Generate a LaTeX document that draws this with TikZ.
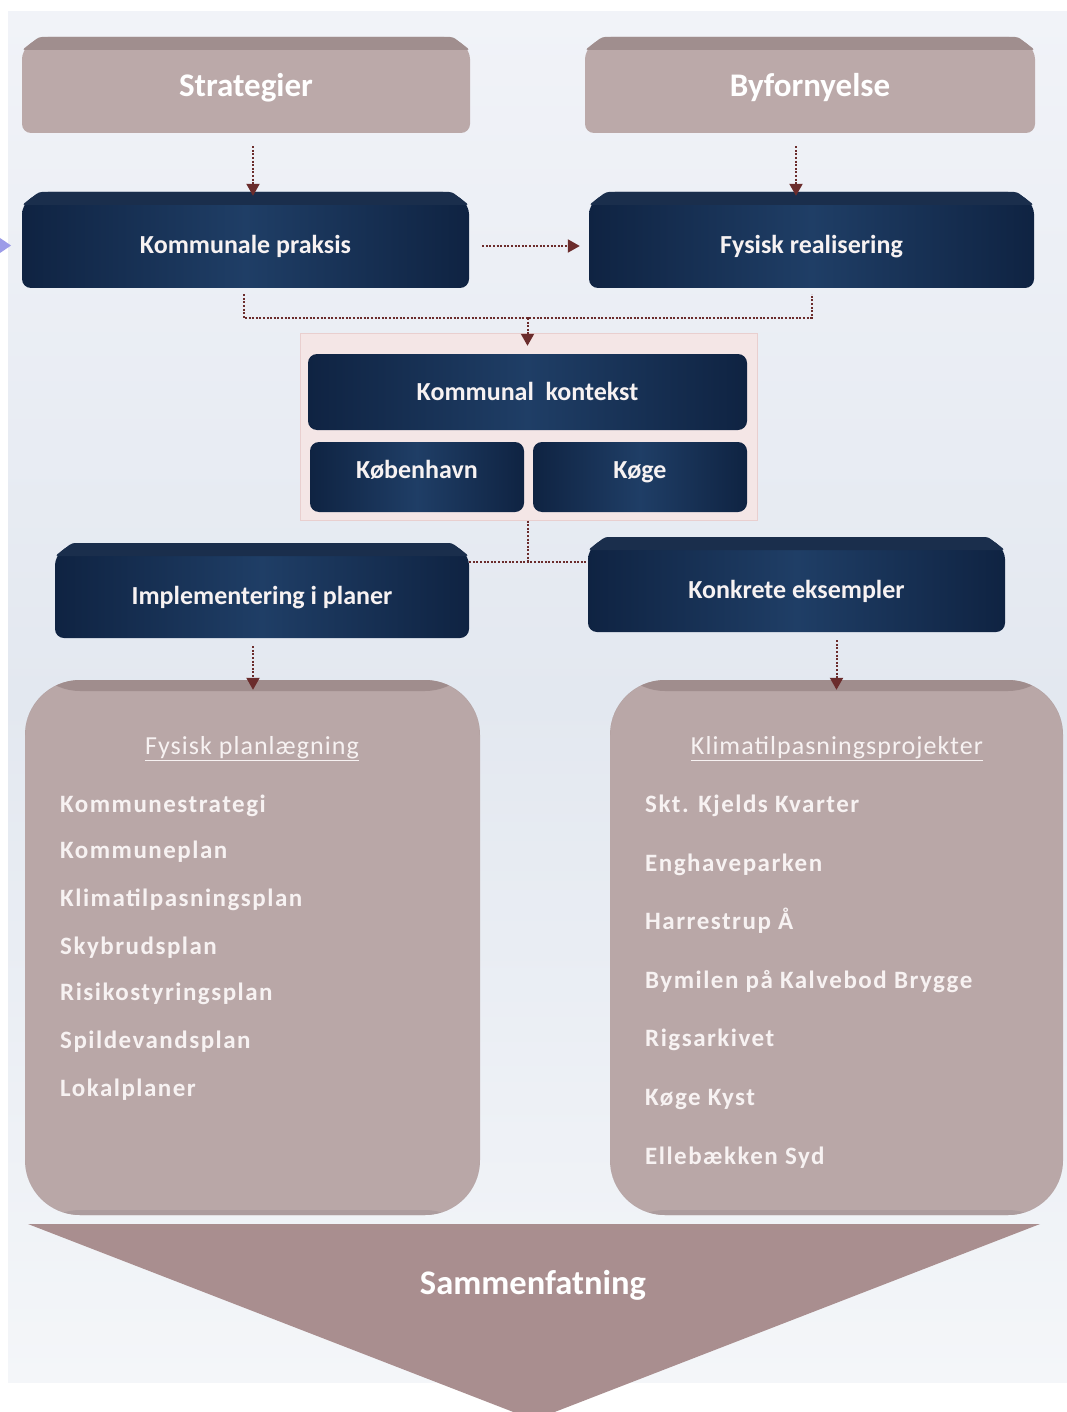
\documentclass[tikz,border=0pt]{standalone}
\usepackage{fontspec}
\setmainfont{Carlito}
\newfontfamily\spacedfont[LetterSpace=6]{Carlito}
\newfontfamily\headfont[LetterSpace=4]{Carlito}
\usetikzlibrary{arrows.meta}

\definecolor{pagebgtop}{HTML}{F1F3F8}
\definecolor{pagebgmid}{HTML}{E3E8F0}
\definecolor{pagebgbot}{HTML}{F4F6F9}
\definecolor{taupe}{HTML}{BBA9A9}
\definecolor{taupeband}{HTML}{A08E8E}
\definecolor{navy}{HTML}{0F2342}
\definecolor{navymid}{HTML}{1F3E66}
\definecolor{navyband}{HTML}{1A2E4C}
\definecolor{linkred}{HTML}{6B2C2C}
\definecolor{listfill}{HTML}{B9A7A7}
\definecolor{listband}{HTML}{A08D8D}
\definecolor{listfoot}{HTML}{AC9C9E}
\definecolor{chevfill}{HTML}{A98E8F}
\definecolor{grpfill}{HTML}{F4E6E6}
\definecolor{grpedge}{HTML}{E9CFCF}
\definecolor{lighttext}{HTML}{F7F2F2}
\definecolor{tipblue}{HTML}{9C9CE8}

\tikzset{
  tbody/.style={fill=taupe},
  tband/.style={fill=taupeband},
  tlabel/.style={text=white, font=\bfseries\fontsize{33}{38}\selectfont},
  nbody/.style={left color=navy, right color=navy, middle color=navymid},
  nband/.style={fill=navyband},
  nlabel/.style={text=lighttext, font=\bfseries\fontsize{26}{30}\selectfont,
    text height=19pt, text depth=4pt},
  link/.style={draw=linkred, line width=2pt, dash pattern=on 2pt off 1.6pt},
  arr/.style={link, -{Triangle[width=13pt,length=12pt]}},
  listbox/.style={fill=listfill, rounded corners=55, inner sep=0pt,
    path picture={
      \fill[listband] (path picture bounding box.north west)
        rectangle ([yshift=-11pt]path picture bounding box.north east);
      \fill[listfoot] (path picture bounding box.south west)
        rectangle ([yshift=5pt]path picture bounding box.south east);}},
  listhead/.style={text=lighttext, font=\headfont\fontsize{26}{30}\selectfont, anchor=base},
  listitem/.style={text=lighttext, font=\spacedfont\bfseries\fontsize{25}{30}\selectfont,
    anchor=base west, inner sep=0pt},
  grpframe/.style={fill=grpfill, draw=grpedge, line width=1pt, inner sep=0pt},
}

% bevelled box: name, x1, y1, x2, y2, style prefix (t/n), label, label drop
\newcommand\bevelbox[8]{%
  \path[#6body, rounded corners=9] (#2+17,#3) -- (#4-17,#3) -- (#4,#3+13)
     -- (#4,#5) -- (#2,#5) -- (#2,#3+13) -- cycle;
  \path[#6band, rounded corners=3] (#2+17,#3) -- (#4-17,#3) -- (#4,#3+13)
     -- (#2,#3+13) -- cycle;
  \node[#6label, minimum width={#4-#2}, minimum height={#5-#3}, inner sep=0pt]
     (#1) at ({(#2+#4)/2},{(#3+#5)/2+#8}) {#7};
}

\begin{document}
\begin{tikzpicture}[x=1pt, y=-1pt]
  \useasboundingbox (0,0) rectangle (1067,1412);
  \fill[white] (0,0) rectangle (1067,1412);
  \shade[top color=pagebgtop, bottom color=pagebgmid] (8,12) rectangle (1067,700);
  \shade[top color=pagebgmid, bottom color=pagebgbot] (8,700) rectangle (1067,1382);

  % incoming tip at the left edge
  \fill[tipblue] (0,238) -- (11,245.5) -- (0,253) -- cycle;

  % top row
  \bevelbox{st}{22}{37}{470}{133}{t}{Strategier}{3}
  \bevelbox{by}{585}{37}{1035}{133}{t}{Byfornyelse}{3}

  % second row
  \bevelbox{kp}{22}{192}{469}{288}{n}{Kommunale praksis}{6}
  \bevelbox{fr}{589}{192}{1034}{288}{n}{Fysisk realisering}{6}

  % municipal context group
  \node[grpframe, minimum width=457, minimum height=187] (grp) at (528.5,426.5) {};
  \path[nbody, rounded corners=9] (308,354) rectangle (747,430);
  \node[nlabel, minimum width=439, minimum height=76, inner sep=0pt] (kk) at (527.5,393) {Kommunal\ \ kontekst};
  \path[nbody, rounded corners=9] (310,442) rectangle (524,512);
  \node[nlabel, minimum width=214, minimum height=70, inner sep=0pt] (kb) at (417,471) {København};
  \path[nbody, rounded corners=9] (533,442) rectangle (747,512);
  \node[nlabel, minimum width=214, minimum height=70, inner sep=0pt] (kg) at (640,471) {Køge};

  % third row
  \bevelbox{im}{55}{543}{469}{638}{n}{Implementering i planer}{6}
  \bevelbox{ke}{588}{537}{1005}{632}{n}{Konkrete eksempler}{6}

  % list panels
  \node[listbox, minimum width=455, minimum height=535] (ll) at (252.5,947.5) {};
  \node[listbox, minimum width=453, minimum height=535] (rl) at (836.5,947.5) {};

  \node[listhead] (lh) at (252,754) {\underline{Fysisk planlægning}};
  \node[listitem] (l1) at (60,812) {Kommunestrategi};
  \node[listitem] (l2) at (60,858) {Kommuneplan};
  \node[listitem] (l3) at (60,906) {Klimatilpasningsplan};
  \node[listitem] (l4) at (60,954) {Skybrudsplan};
  \node[listitem] (l5) at (60,1000) {Risikostyringsplan};
  \node[listitem] (l6) at (60,1048) {Spildevandsplan};
  \node[listitem] (l7) at (60,1096) {Lokalplaner};

  \node[listhead] (rh) at (837,754) {\underline{Klimatilpasningsprojekter}};
  \node[listitem] (r1) at (645,812) {Skt. Kjelds Kvarter};
  \node[listitem] (r2) at (645,871) {Enghaveparken};
  \node[listitem] (r3) at (645,929) {Harrestrup Å};
  \node[listitem] (r4) at (645,988) {Bymilen på Kalvebod Brygge};
  \node[listitem] (r5) at (645,1046) {Rigsarkivet};
  \node[listitem] (r6) at (645,1105) {Køge Kyst};
  \node[listitem] (r7) at (645,1164) {Ellebækken Syd};

  % summary chevron
  \fill[chevfill] (28,1224) -- (1040,1224) -- (534,1420) -- cycle;
  \node[tlabel, font=\bfseries\fontsize{34.5}{40}\selectfont] (sm) at (533,1285) {Sammenfatning};

  % connectors
  \draw[arr, shorten <=10pt, shorten >=2pt] ([xshift=7pt]st.south) -- ([xshift=7pt]st.south |- kp.north);
  \draw[arr, shorten <=10pt, shorten >=2pt] ([xshift=-14pt]by.south) -- ([xshift=-14pt]by.south |- fr.north);
  \draw[arr, shorten <=13pt, shorten >=9pt] (kp.east) -- (kp.east -| fr.west);

  \coordinate (j1) at (527.5,318);
  \draw[link] ([xshift=-2pt]kp.south) |- (j1) -| (fr.south);
  \draw[arr, shorten >=9pt] (j1) -- (j1 |- kk.north);

  \coordinate (j2) at (527.5,562);
  \draw[link] (grp.south -| j2) -- (j2);
  \draw[link] (im.east |- j2) -- (ke.west |- j2);

  \draw[arr, shorten <=2pt] ([xshift=-9pt]im.south) -- ([xshift=-9pt, yshift=-10pt]im.south |- ll.north);
  \draw[arr, shorten <=2pt] (rl.north |- ke.south) -- ([yshift=-10pt]rl.north);
\end{tikzpicture}
\end{document}
